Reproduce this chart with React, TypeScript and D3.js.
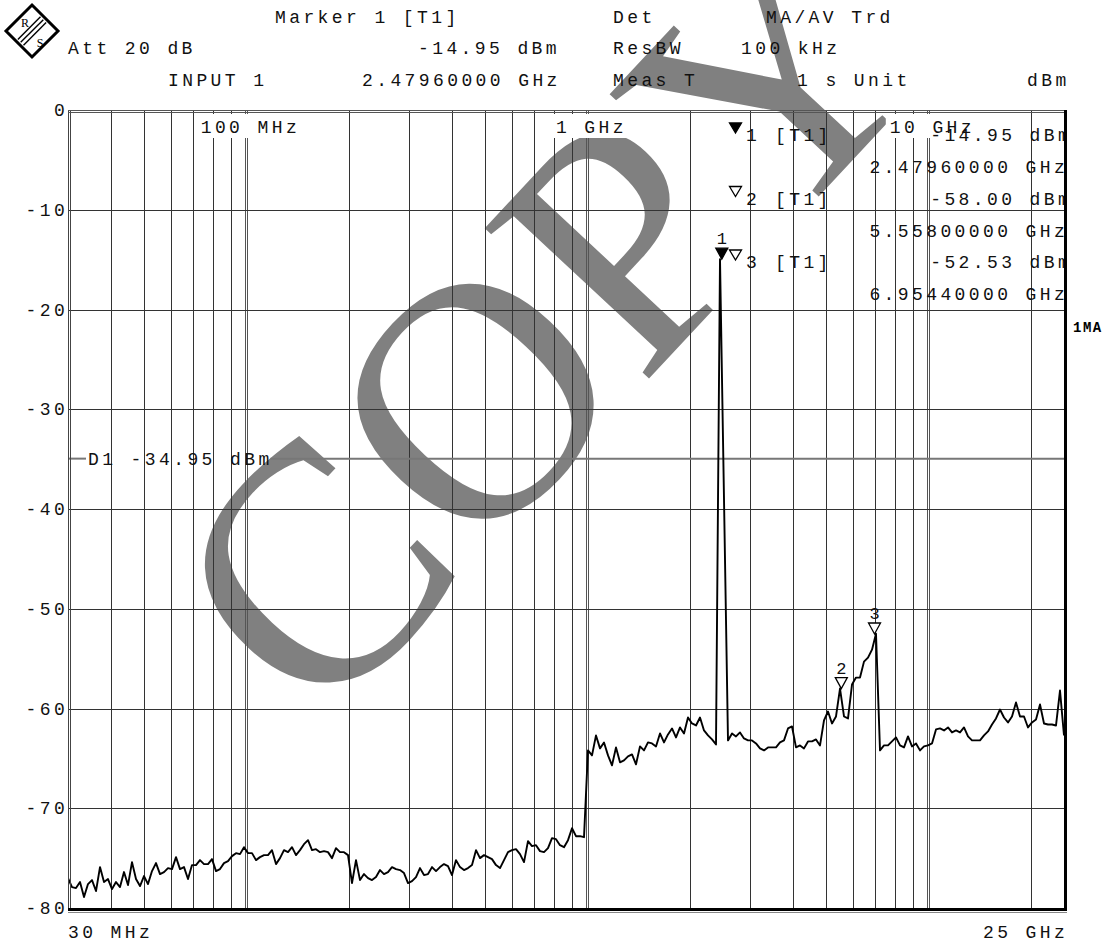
import React, { useRef, useEffect } from 'react'
import * as d3 from 'd3'

// sweep: 250 log spaced points, 30 MHz .. 25 GHz
const startHz = 30e6
const stopHz = 25e9
const traceDbm = [
  -77.0, -77.9, -78.0, -77.4, -78.9, -77.6, -77.2, -78.3, -75.9, -77.4,
  -77.1, -78.1, -77.4, -77.9, -76.4, -77.7, -75.4, -77.1, -77.8, -76.8,
  -77.6, -76.3, -75.5, -76.6, -76.4, -76.0, -76.1, -74.9, -76.1, -75.9,
  -77.1, -75.7, -75.7, -75.2, -75.6, -75.6, -75.1, -76.3, -76.1, -75.5,
  -75.3, -74.8, -74.5, -74.6, -73.9, -74.5, -74.5, -75.2, -74.9, -74.7,
  -74.7, -74.2, -75.6, -75.0, -74.2, -74.4, -73.9, -74.7, -74.2, -73.6,
  -73.2, -74.2, -74.1, -74.4, -74.3, -74.4, -75.0, -74.0, -74.4, -74.4,
  -74.7, -77.5, -75.2, -77.2, -76.6, -77.0, -77.2, -76.9, -76.2, -76.6,
  -76.4, -75.9, -76.1, -76.2, -76.5, -77.5, -77.3, -76.9, -76.0, -76.7,
  -76.6, -75.9, -76.3, -75.9, -75.6, -75.8, -76.7, -75.2, -75.9, -76.2,
  -76.0, -75.7, -74.2, -75.0, -74.7, -74.9, -75.1, -75.7, -76.0, -75.2,
  -74.4, -74.2, -74.1, -74.6, -75.4, -73.3, -73.8, -73.7, -74.3, -74.4,
  -74.0, -73.0, -73.1, -73.7, -73.9, -73.2, -72.0, -72.8, -72.8, -72.9,
  -64.2, -64.7, -62.7, -64.0, -63.4, -64.7, -65.7, -63.9, -65.4, -65.2,
  -64.8, -64.6, -65.6, -63.8, -64.2, -63.4, -63.5, -63.8, -62.5, -63.4,
  -62.6, -62.0, -62.9, -61.9, -62.5, -60.9, -61.5, -61.7, -60.9, -62.2,
  -62.7, -63.1, -63.6, -14.95, -39.0, -63.2, -62.5, -62.8, -62.4, -63.0,
  -63.2, -63.2, -63.5, -64.0, -64.2, -63.9, -63.9, -63.9, -63.4, -63.2,
  -62.0, -61.8, -63.9, -63.7, -64.0, -63.3, -63.3, -63.1, -63.7, -61.2,
  -60.3, -61.5, -60.8, -58.0, -60.8, -61.0, -57.6, -56.9, -56.9, -55.3,
  -54.9, -54.1, -52.5, -64.2, -63.7, -63.7, -63.3, -62.9, -63.7, -63.9,
  -62.8, -63.8, -63.5, -64.2, -63.8, -63.7, -63.5, -62.1, -62.0, -62.2,
  -61.9, -62.4, -62.2, -62.4, -61.9, -62.8, -63.2, -63.2, -63.2, -62.7,
  -62.3, -61.6, -61.0, -60.1, -60.9, -61.4, -60.8, -59.4, -60.8, -60.8,
  -61.9, -61.4, -61.1, -59.6, -61.5, -61.6, -61.6, -61.7, -58.2, -62.7
]

const levelTicks = [0, -10, -20, -30, -40, -50, -60, -70, -80]
const minorFreqs = [
  40e6, 50e6, 60e6, 70e6, 80e6, 90e6,
  200e6, 300e6, 400e6, 500e6, 600e6, 700e6, 800e6, 900e6,
  2e9, 3e9, 4e9, 5e9, 6e9, 7e9, 8e9, 9e9, 20e9
]
const decadeFreqs = [100e6, 1e9, 10e9]
const decadeLabels = ['100 MHz', '1 GHz', '10 GHz']

const markerNo = ['1', '2', '3']
const markerHz = [2.4796e9, 5.558e9, 6.9544e9]
const markerDbm = [-14.95, -58.0, -52.53]
const markerLevelText = ['-14.95 dBm', '-58.00 dBm', '-52.53 dBm']
const markerFreqText = ['2.47960000 GHz', '5.55800000 GHz', '6.95440000 GHz']
const displayLineDbm = -34.95

const W = 1116
const H = 944
const left = 68, right = 1064, top = 110, bottom = 908
const ADV = 14.2
const MONO = "'Liberation Mono', monospace"

export default function App() {
  const ref = useRef<SVGSVGElement>(null)

  useEffect(() => {
    if (ref.current === null) return
    const svg = d3.select(ref.current)
    svg.selectAll('*').remove()

    const x = d3.scaleLog().domain([startHz, stopHz]).range([left, right])
    const y = d3.scaleLinear().domain([0, -80]).range([top, bottom])
    const sweepHz = (i: number) => startHz * Math.pow(stopHz / startHz, i / (traceDbm.length - 1))

    const txt = (g: any, s: string, tx: number, ty: number) =>
      g.append('text')
        .attr('x', tx).attr('y', ty)
        .attr('font-family', MONO).attr('font-size', 18)
        .attr('letter-spacing', 3.4)
        .attr('fill', '#111')
        .text(s)
    const startFor = (s: string, r: number) => r - (s.length - 1) * ADV - 10

    svg.append('rect').attr('width', W).attr('height', H).attr('fill', '#fff')

    svg.append('defs').append('clipPath').attr('id', 'plot-clip')
      .append('rect').attr('x', left).attr('y', top).attr('width', right - left).attr('height', bottom - top)

    // watermark
    svg.append('text')
      .attr('transform', 'translate(628,401) rotate(-47)')
      .attr('text-anchor', 'middle')
      .attr('font-family', "'Liberation Serif', serif")
      .attr('font-size', 340)
      .attr('fill', '#808080')
      .text('COPY')

    // grid
    const grid = svg.append('g').attr('class', 'grid')
    minorFreqs.forEach(f => {
      const gx = Math.round(x(f)) + 0.5
      grid.append('line').attr('x1', gx).attr('x2', gx).attr('y1', top).attr('y2', bottom)
        .attr('stroke', '#333').attr('stroke-width', 1)
    })
    decadeFreqs.forEach(f => {
      const gx = Math.round(x(f))
      ;[-0.5, 1.5].forEach(o => {
        grid.append('line').attr('x1', gx + o).attr('x2', gx + o).attr('y1', top).attr('y2', bottom)
          .attr('stroke', '#555').attr('stroke-width', 1)
      })
    })
    levelTicks.slice(1, -1).forEach(v => {
      const gy = Math.round(y(v)) + 0.5
      grid.append('line').attr('x1', left).attr('x2', right).attr('y1', gy).attr('y2', gy)
        .attr('stroke', '#333').attr('stroke-width', 1)
    })

    // decade labels at top of grid
    decadeLabels.forEach((s, i) => {
      const w = (s.length - 1) * ADV + 10
      const sx = x(decadeFreqs[i]) - w / 2 + 2
      svg.append('rect').attr('x', sx - 4).attr('y', top + 4).attr('width', w + 8).attr('height', 24).attr('fill', '#fff')
      txt(svg, s, sx, top + 23)
    })

    // display line D1
    const d1y = y(displayLineDbm)
    const d1Text = 'D1 -34.95 dBm'
    const d1x = 88
    const d1w = (d1Text.length - 1) * ADV + 10
    svg.append('line').attr('x1', left).attr('x2', d1x - 2).attr('y1', d1y).attr('y2', d1y)
      .attr('stroke', '#777').attr('stroke-width', 2)
    svg.append('line').attr('x1', d1x + d1w + 2).attr('x2', right).attr('y1', d1y).attr('y2', d1y)
      .attr('stroke', '#777').attr('stroke-width', 2)
    txt(svg, d1Text, d1x, d1y + 6)

    // trace
    const traceLine = d3.line<number>()
      .x((d, i) => x(sweepHz(i)))
      .y(d => y(d))
    svg.append('path')
      .datum(traceDbm)
      .attr('d', traceLine)
      .attr('clip-path', 'url(#plot-clip)')
      .attr('fill', 'none')
      .attr('stroke', '#000')
      .attr('stroke-width', 1.9)
      .attr('stroke-linejoin', 'round')

    // markers on trace
    markerNo.forEach((m, i) => {
      const mx = x(markerHz[i])
      const my = y(markerDbm[i])
      svg.append('path')
        .attr('d', `M${mx - 6},${my - 11}L${mx + 6},${my - 11}L${mx},${my}Z`)
        .attr('fill', i === 0 ? '#000' : '#fff')
        .attr('stroke', '#000').attr('stroke-width', 1.3)
      svg.append('text').attr('x', mx).attr('y', my - 15)
        .attr('text-anchor', 'middle')
        .attr('font-family', MONO).attr('font-size', 17)
        .attr('fill', '#111').text(m)
    })

    // marker table
    const table = svg.append('g').attr('clip-path', 'url(#plot-clip)')
    markerNo.forEach((m, i) => {
      const b1 = 141 + i * 63.5
      const b2 = b1 + 32
      const tx = 735.5
      table.append('path')
        .attr('d', `M${tx - 6},${b1 - 18}L${tx + 6},${b1 - 18}L${tx},${b1 - 8}Z`)
        .attr('fill', i === 0 ? '#000' : '#fff')
        .attr('stroke', '#000').attr('stroke-width', 1.3)
      txt(table, m, 746, b1)
      txt(table, '[T1]', 775, b1)
      txt(table, markerLevelText[i], startFor(markerLevelText[i], 1068), b1)
      txt(table, markerFreqText[i], startFor(markerFreqText[i], 1064), b2)
    })

    // frame
    const frame = svg.append('g')
    frame.append('line').attr('x1', left + 0.5).attr('x2', left + 0.5).attr('y1', top).attr('y2', bottom)
      .attr('stroke', '#444')
    frame.append('line').attr('x1', left + 2.5).attr('x2', left + 2.5).attr('y1', top).attr('y2', bottom)
      .attr('stroke', '#444')
    frame.append('line').attr('x1', left).attr('x2', right).attr('y1', top + 0.5).attr('y2', top + 0.5)
      .attr('stroke', '#555')
    frame.append('line').attr('x1', left).attr('x2', right).attr('y1', top + 2.5).attr('y2', top + 2.5)
      .attr('stroke', '#555')
    frame.append('line').attr('x1', right + 1.5).attr('x2', right + 1.5).attr('y1', top).attr('y2', bottom + 3)
      .attr('stroke', '#000').attr('stroke-width', 3)
    frame.append('line').attr('x1', left).attr('x2', right + 3).attr('y1', bottom + 1.5).attr('y2', bottom + 1.5)
      .attr('stroke', '#000').attr('stroke-width', 3)
    frame.append('line').attr('x1', left).attr('x2', right + 3).attr('y1', bottom + 4.5).attr('y2', bottom + 4.5)
      .attr('stroke', '#888').attr('stroke-width', 1)

    // level axis labels
    levelTicks.forEach(v => {
      const s = String(v)
      txt(svg, s, startFor(s, 64), y(v) + 6)
    })
    txt(svg, '30 MHz', 68, 938)
    txt(svg, '25 GHz', startFor('25 GHz', 1064), 938)

    svg.append('text').attr('x', 1073).attr('y', 332)
      .attr('font-family', MONO).attr('font-size', 14).attr('font-weight', 'bold')
      .attr('letter-spacing', 1.5).attr('fill', '#000').text('1MA')

    // header
    const header: [string, number, number][] = [
      ['Marker 1 [T1]', 275, 23],
      ['Att 20 dB', 68, 54],
      ['-14.95 dBm', 418, 54],
      ['INPUT 1', 168, 86],
      ['2.47960000 GHz', 362, 86],
      ['Det', 613, 23],
      ['MA/AV Trd', 766, 23],
      ['ResBW', 613, 54],
      ['100 kHz', 741, 54],
      ['Meas T', 613, 86],
      ['1 s Unit', 797, 86],
      ['dBm', 1027, 86]
    ]
    header.forEach(([s, hx, hy]) => txt(svg, s, hx, hy))

    // R&S logo
    const logo = svg.append('g').attr('transform', 'translate(32,31)')
    logo.append('path').attr('d', 'M0,-26L26,0L0,26L-26,0Z')
      .attr('fill', '#fff').attr('stroke', '#000').attr('stroke-width', 3)
    ;[-4, 0, 4].forEach(o => {
      const r2 = Math.SQRT2
      logo.append('line')
        .attr('x1', (o - 16) / r2).attr('y1', (o + 16) / r2)
        .attr('x2', (o + 16) / r2).attr('y2', (o - 16) / r2)
        .attr('stroke', '#000').attr('stroke-width', 1.4)
    })
    logo.append('text').attr('x', -7).attr('y', -4).attr('font-family', "'Liberation Serif', serif")
      .attr('font-size', 12).attr('text-anchor', 'middle').attr('fill', '#000').text('R')
    logo.append('text').attr('x', 8).attr('y', 16).attr('font-family', "'Liberation Serif', serif")
      .attr('font-size', 12).attr('text-anchor', 'middle').attr('fill', '#000').text('S')
  }, [])

  return (
    <svg ref={ref} width={W} height={H} style={{ position: 'absolute', left: 0, top: 0 }} />
  )
}
